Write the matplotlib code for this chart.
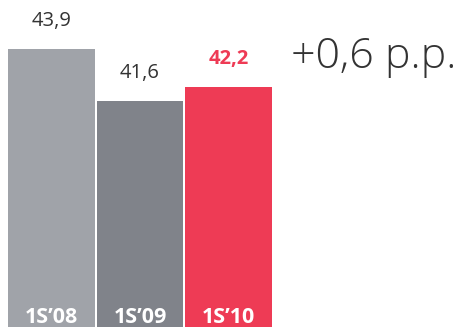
import matplotlib
matplotlib.use("Agg")
import matplotlib.pyplot as plt
import numpy as np

plt.rcParams['font.family'] = ['Open Sans', 'DejaVu Sans']

periods = ["1S’08", "1S’09", "1S’10"]
values = [43.9, 41.6, 42.2]
value_labels = ["43,9", "41,6", "42,2"]
change_label = "+0,6 p.p."

colors = ["#a0a3a9", "#80838a", "#ee3b55"]
label_colors = ["#333333", "#333333", "#ee3b55"]
label_weights = ["normal", "normal", "bold"]

fig = plt.figure(figsize=(4.61, 3.27), dpi=100)
ax = fig.add_axes([0, 0, 1, 1])

x = np.arange(len(values))
bars = ax.bar(x, values, width=0.98, color=colors, linewidth=0)

for i, b in enumerate(bars):
    ax.annotate(value_labels[i], (b.get_x() + b.get_width() / 2, b.get_height()),
                xytext=(0, 13), textcoords="offset points", ha="center", va="bottom",
                fontsize=14.5, color=label_colors[i], fontweight=label_weights[i])
    ax.annotate(periods[i], (b.get_x() + b.get_width() / 2, 0), xycoords=("data", "axes fraction"),
                xytext=(0, -1), textcoords="offset points", ha="center", va="bottom",
                fontsize=15.5, color="white", fontweight="bold")

ax.text(0.632, 0.825, change_label, transform=ax.transAxes, ha="left", va="center",
        fontsize=31, color="#333333", fontweight="light")

ax.set_xlim(-0.582, 4.627)
ax.set_ylim(31.59, 46.06)
ax.axis("off")

fig.savefig("out.png", dpi=100)
